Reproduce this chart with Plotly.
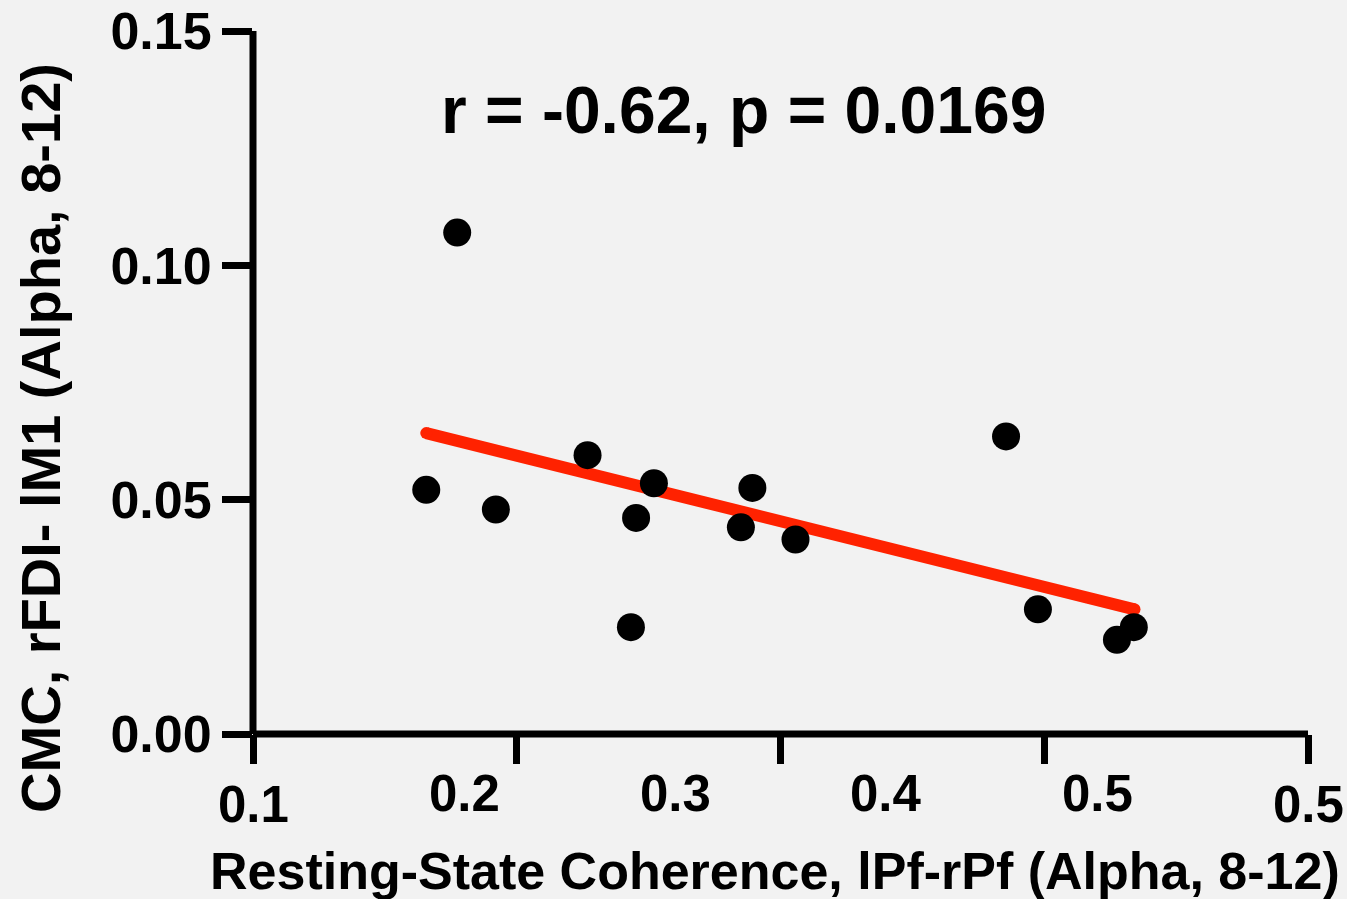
import plotly.graph_objects as go

# ---- data ----
coherence_x = [0.1739, 0.1871, 0.2036, 0.2427, 0.2612, 0.2634, 0.2710,
               0.3081, 0.3130, 0.3314, 0.4212, 0.4348, 0.4685, 0.4757]
cmc_y = [0.0521, 0.1070, 0.0479, 0.0595, 0.0228, 0.0461, 0.0535,
         0.0441, 0.0525, 0.0415, 0.0635, 0.0266, 0.0201, 0.0228]

fit_x = [0.1739, 0.4760]
fit_y = [0.0642, 0.0266]

y_tick_values = [0.00, 0.05, 0.10, 0.15]
y_tick_labels = ["0.00", "0.05", "0.10", "0.15"]

x_tick_marks = [0.10, 0.2125, 0.325, 0.4375, 0.55]
x_label_values = [0.10, 0.19, 0.28, 0.37, 0.46, 0.55]
x_label_texts = ["0.1", "0.2", "0.3", "0.4", "0.5", "0.5"]

stat_text = "r = -0.62, p = 0.0169"
x_title = "Resting-State Coherence, lPf-rPf (Alpha, 8-12)"
y_title = "CMC, rFDI- lM1 (Alpha, 8-12)"

# ---- styling ----
BG = "#f2f2f2"
RED = "#ff2200"
FONT = "Liberation Sans, Arial, Helvetica, sans-serif"

W, H = 1347, 899
ML, MR, MT, MB = 253, 39, 31, 165

fig = go.Figure()

fig.add_trace(go.Scatter(
    x=fit_x, y=fit_y, mode="lines+markers",
    line=dict(color=RED, width=12),
    marker=dict(size=12, color=RED),
    hoverinfo="skip", showlegend=False,
))

fig.add_trace(go.Scatter(
    x=coherence_x, y=cmc_y, mode="markers",
    marker=dict(size=28, color="black", line=dict(width=0)),
    showlegend=False,
))

annotations = []
for i, (v, t) in enumerate(zip(x_label_values, x_label_texts)):
    edge = i == 0 or i == len(x_label_values) - 1
    annotations.append(dict(
        x=v, xref="x", y=-0.0996 if edge else -0.0846, yref="paper",
        text=f"<b>{t}</b>", showarrow=False, xanchor="center", yanchor="middle",
        font=dict(family=FONT, size=51, color="black"),
    ))

annotations.append(dict(
    x=0.465, y=0.888, xref="paper", yref="paper",
    text=f"<b>{stat_text}</b>", showarrow=False, xanchor="center", yanchor="middle",
    font=dict(family=FONT, size=66, color="black"),
))
annotations.append(dict(
    x=(775 - ML) / (W - ML - MR), y=-0.1945, xref="paper", yref="paper",
    text=f"<b>{x_title}</b>", showarrow=False, xanchor="center", yanchor="middle",
    font=dict(family=FONT, size=52, color="black"),
))
annotations.append(dict(
    x=-0.2015, y=0.4218, xref="paper", yref="paper",
    text=f"<b>{y_title}</b>", showarrow=False, xanchor="center", yanchor="middle",
    textangle=-90,
    font=dict(family=FONT, size=56, color="black"),
))

fig.update_layout(
    width=W, height=H,
    margin=dict(l=ML, r=MR, t=MT, b=MB, pad=0, autoexpand=False),
    paper_bgcolor=BG, plot_bgcolor=BG,
    showlegend=False,
    annotations=annotations,
    shapes=[
        dict(type="line", xref="paper", yref="paper", x0=0, x1=0, y0=0, y1=1,
             line=dict(color="black", width=7)),
        dict(type="line", xref="paper", yref="paper", x0=0, x1=1, y0=0, y1=0,
             line=dict(color="black", width=7)),
    ],
    xaxis=dict(
        range=[0.10, 0.55], tickmode="array", tickvals=x_tick_marks,
        showticklabels=False, ticks="outside", ticklen=29, tickwidth=7,
        tickcolor="black", showgrid=False, zeroline=False, showline=False,
        automargin=False,
    ),
    yaxis=dict(
        range=[0.0, 0.15], tickmode="array", tickvals=y_tick_values,
        ticktext=y_tick_labels, ticks="outside", ticklen=30, tickwidth=7,
        tickcolor="black", showgrid=False, zeroline=False, showline=False,
        tickfont=dict(family=FONT, size=52, color="black", weight="bold"),
        ticklabelstandoff=0, automargin=False,
    ),
)

fig.write_html(
    "out.html",
    config={"displayModeBar": False},
    post_script="document.body.style.margin='0px';"
                "document.body.style.background='#f2f2f2';"
                "document.body.style.overflow='hidden';",
)
